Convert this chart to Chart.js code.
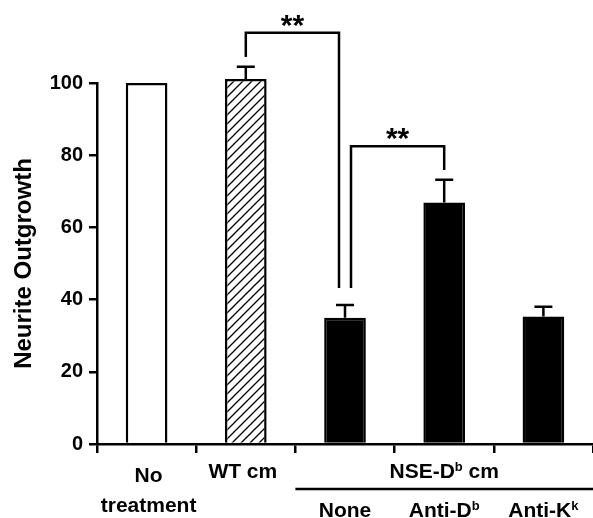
<!DOCTYPE html>
<html>
<head>
<meta charset="utf-8">
<script src="https://cdn.jsdelivr.net/npm/chart.js@4"></script>
<style>
  html, body { margin: 0; padding: 0; background: #fff; }
  #wrap { width: 593px; height: 518px; }
</style>
</head>
<body>
<div id="wrap"><canvas id="chart" width="593" height="518"></canvas></div>
<script>
// ---- Data ----
const categories = [['No', 'treatment'], 'WT cm', 'None', 'Anti-D^b', 'Anti-K^k'];
const values = [100, 101.1, 35, 66.9, 35.3];
const errors = [0, 3.4, 3.5, 6.3, 2.7];
const yTicks = [0, 20, 40, 60, 80, 100];
const groupLabel = 'NSE-D^b cm';
const groupStart = 2;
// significance brackets (value units): from bar -> up to top -> down to bar
const brackets = [
  { from: 1, to: 2, startVal: 107.2, topVal: 113.9, endVal: 43.2, label: '**', fromSide: 0, toSide: -1 },
  { from: 2, to: 3, startVal: 43.2, topVal: 82.5, endVal: 75.9, label: '**', fromSide: 1, toSide: 0 },
];

const FONT = "'Liberation Sans', Arial, Helvetica, sans-serif";
const ctx = document.getElementById('chart').getContext('2d');

function hatch() {
  const c = document.createElement('canvas');
  c.width = c.height = 9;
  const g = c.getContext('2d');
  g.fillStyle = '#fff'; g.fillRect(0, 0, 9, 9);
  g.strokeStyle = '#000'; g.lineWidth = 1.3;
  g.beginPath();
  g.moveTo(-1, 10); g.lineTo(10, -1);
  g.moveTo(-3, 3); g.lineTo(3, -3);
  g.moveTo(6, 12); g.lineTo(12, 6);
  g.stroke();
  return ctx.createPattern(c, 'repeat');
}
const fills = ['#fff', hatch(), '#000', '#000', '#000'];

// text with ^x superscripts, centred on cx
function richText(c, text, cx, base, size) {
  const parts = text.split(/\^(\w)/);
  const big = `bold ${size}px ${FONT}`, small = `bold ${Math.round(size * 0.62)}px ${FONT}`;
  let w = 0;
  parts.forEach((p, i) => { c.font = i % 2 ? small : big; w += c.measureText(p).width; });
  let x = cx - w / 2;
  c.textAlign = 'left'; c.textBaseline = 'alphabetic';
  parts.forEach((p, i) => {
    c.font = i % 2 ? small : big;
    c.fillText(p, x, i % 2 ? base - 7 : base);
    x += c.measureText(p).width;
  });
}

const extras = {
  id: 'extras',
  afterDatasetsDraw(chart) {
    const c = chart.ctx, x = chart.scales.x, y = chart.scales.y;
    const bars = chart.getDatasetMeta(0).data;
    c.save();
    c.strokeStyle = '#000'; c.fillStyle = '#000'; c.lineWidth = 2.5;

    // error bars (upper only)
    bars.forEach((b, i) => {
      if (!errors[i]) return;
      const top = y.getPixelForValue(values[i] + errors[i]);
      c.beginPath();
      c.moveTo(b.x, b.y); c.lineTo(b.x, top);
      c.moveTo(b.x - 9, top); c.lineTo(b.x + 9, top);
      c.stroke();
    });

    // significance brackets
    brackets.forEach(br => {
      const x1 = bars[br.from].x + br.fromSide * 6, x2 = bars[br.to].x + br.toSide * 6;
      const yt = y.getPixelForValue(br.topVal);
      c.beginPath();
      c.moveTo(x1, y.getPixelForValue(br.startVal));
      c.lineTo(x1, yt); c.lineTo(x2, yt);
      c.lineTo(x2, y.getPixelForValue(br.endVal));
      c.stroke();
      c.font = `bold 30px ${FONT}`;
      c.textAlign = 'center'; c.textBaseline = 'alphabetic';
      c.fillText(br.label, (x1 + x2) / 2, yt + 2);
    });

    // category labels
    categories.forEach((lab, i) => {
      const cx = x.getPixelForValue(i);
      if (i >= groupStart) { richText(c, lab, cx, 517, 21); return; }
      if (Array.isArray(lab)) lab.forEach((l, k) => richText(c, l, cx + 2, 482 + k * 30, 21));
      else richText(c, lab, cx - 3, 478, 21);
    });
    const gx1 = x.getPixelForValue(groupStart) - (x.getPixelForValue(1) - x.getPixelForValue(0)) / 2;
    const gx2 = x.right;
    richText(c, groupLabel, (gx1 + gx2) / 2, 478, 21);
    c.beginPath(); c.moveTo(gx1, 489); c.lineTo(gx2, 489); c.stroke();
    c.restore();
  }
};

new Chart(ctx, {
  type: 'bar',
  data: {
    labels: categories,
    datasets: [{
      data: values,
      backgroundColor: fills,
      borderColor: '#000',
      borderWidth: 2.5,
      categoryPercentage: 1,
      barPercentage: 0.42,
      clip: false
    }]
  },
  options: {
    responsive: false, animation: false, devicePixelRatio: 1,
    layout: { padding: { top: 83, right: 0, bottom: 0, left: 0 } },
    plugins: { legend: { display: false }, tooltip: { enabled: false } },
    scales: {
      x: {
        offset: true,
        grid: { offset: true, drawOnChartArea: false, drawTicks: true, tickLength: 9, color: '#000', lineWidth: 2.5 },
        border: { color: '#000', width: 2.5 },
        ticks: { display: false },
        afterFit: s => { s.height = 74; }
      },
      y: {
        min: 0, max: 100,
        afterBuildTicks: s => { s.ticks = yTicks.map(v => ({ value: v })); },
        ticks: { font: { family: FONT, size: 20, weight: 'bold' }, color: '#000', padding: 6 },
        grid: { drawOnChartArea: false, tickLength: 8, color: '#000', lineWidth: 2.5 },
        border: { color: '#000', width: 2.5 },
        title: { display: true, text: 'Neurite Outgrowth', color: '#000',
                 font: { family: FONT, size: 24, weight: 'bold' }, padding: { top: 10, bottom: 0 } },
        afterFit: s => { s.width = 97; }
      }
    }
  },
  plugins: [extras]
});
</script>
</body>
</html>
